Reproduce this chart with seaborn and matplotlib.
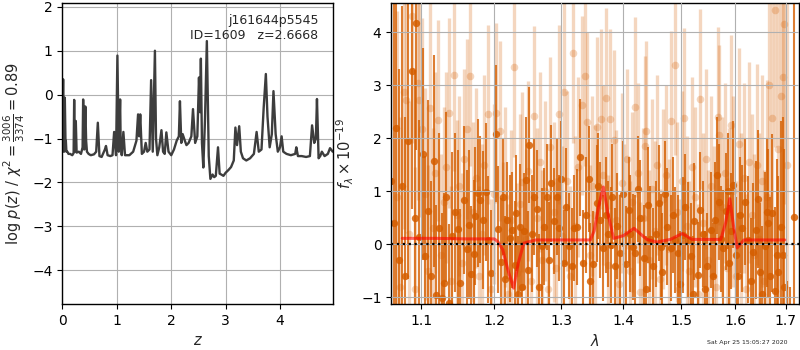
import numpy as np
import matplotlib
matplotlib.use("Agg")
import matplotlib.pyplot as plt
from matplotlib.ticker import FixedLocator, FixedFormatter, NullLocator
import seaborn as sns

sns.set_style("ticks")
plt.rcParams.update({
    "font.family": ["DejaVu Sans"],
    "font.size": 9,
    "axes.labelsize": 10.5,
    "xtick.labelsize": 10,
    "ytick.labelsize": 10,
    "axes.edgecolor": "black",
    "axes.linewidth": 1.0,
    "xtick.color": "black",
    "ytick.color": "black",
    "grid.color": "#b0b0b0",
    "grid.linewidth": 0.8,
    "xtick.direction": "out",
    "ytick.direction": "out",
})

# ---- redshift probability: log p(z) ----
z_grid = [0.000, 0.008, 0.012, 0.018, 0.030, 0.043, 0.055, 0.062, 0.072, 0.090, 0.110,
          0.140, 0.180, 0.205, 0.215, 0.225, 0.245, 0.260, 0.300, 0.340, 0.370, 0.380,
          0.400, 0.420, 0.435, 0.450, 0.480, 0.520, 0.580, 0.620, 0.650, 0.680, 0.720,
          0.780, 0.800, 0.830, 0.880, 0.920, 0.950, 0.985, 1.010, 1.035, 1.060, 1.070,
          1.090, 1.120, 1.150, 1.180, 1.230, 1.300, 1.360, 1.390, 1.410, 1.430, 1.460,
          1.500, 1.530, 1.560, 1.600, 1.630, 1.660, 1.700, 1.720, 1.745, 1.780, 1.820,
          1.850, 1.880, 1.910, 1.950, 2.000, 2.050, 2.100, 2.140, 2.160, 2.185, 2.210,
          2.250, 2.280, 2.320, 2.370, 2.400, 2.440, 2.480, 2.510, 2.530, 2.545, 2.565,
          2.590, 2.620, 2.655, 2.690, 2.720, 2.760, 2.790, 2.820, 2.860, 2.890, 2.920,
          2.960, 3.000, 3.050, 3.100, 3.150, 3.180, 3.210, 3.250, 3.280, 3.320, 3.380,
          3.450, 3.520, 3.570, 3.610, 3.660, 3.700, 3.740, 3.770, 3.810, 3.850, 3.880,
          3.920, 3.960, 4.000, 4.030, 4.060, 4.120, 4.200, 4.280, 4.300, 4.330, 4.400,
          4.480, 4.550, 4.590, 4.630, 4.660, 4.680, 4.710, 4.740, 4.770, 4.820, 4.880,
          4.920, 4.970]
logp = [-1.30, -0.20, 0.35, -1.10, -1.30, -0.07, -1.05, -1.05, -1.30, -1.30, -1.35,
        -1.35, -1.38, -1.33, -0.12, -1.30, -0.60, -1.32, -1.30, -1.35, -1.20, -0.11,
        -1.25, -0.27, -1.05, -1.30, -1.35, -1.38, -1.36, -1.30, -0.64, -1.40, -1.42,
        -1.25, -1.17, -1.38, -1.40, -1.38, -0.85, -1.38, 0.89, -1.30, -0.11, -1.10,
        -1.38, -0.85, -1.38, -1.38, -1.38, -1.30, -1.05, -0.45, -0.95, -0.45, -1.35,
        -1.30, -1.10, -1.30, -1.25, 0.33, -1.30, 1.00, -1.00, -1.38, -1.20, -0.81,
        -1.30, -1.35, -0.86, -1.30, -1.38, -1.25, -1.05, -0.95, -0.15, -1.10, -0.90,
        -1.05, -1.15, -1.10, -0.95, -0.33, -1.10, -0.95, 0.39, -0.40, 0.82, -1.10,
        -1.66, -0.60, 1.22, -1.40, -1.92, -1.82, -1.88, -1.85, -1.20, -1.80, -1.82,
        -1.85, -1.78, -1.72, -1.65, -1.50, -0.75, -1.15, -0.72, -1.30, -1.45, -1.50,
        -1.45, -1.35, -0.85, -1.30, -1.25, -0.30, 0.47, -0.50, -1.20, -0.90, 0.08,
        -0.90, -1.30, -1.20, -0.95, -1.30, -1.35, -1.38, -1.35, -1.20, -1.40, -1.40,
        -1.42, -1.40, -0.70, -1.10, -1.00, -0.10, -1.45, -1.40, -1.30, -1.40, -1.35,
        -1.22, -1.30]

# ---- 1D spectrum: binned (dark) and unbinned (light) points ----
wave_bin = [1.061, 1.064, 1.067, 1.071, 1.075, 1.079, 1.083, 1.087, 1.091, 1.093,
            1.097, 1.102, 1.104, 1.108, 1.113, 1.116, 1.119, 1.123, 1.127, 1.130,
            1.133, 1.137, 1.141, 1.145, 1.149, 1.152, 1.158, 1.161, 1.164, 1.167,
            1.171, 1.173, 1.177, 1.180, 1.184, 1.188, 1.191, 1.195, 1.202, 1.205,
            1.210, 1.213, 1.216, 1.219, 1.222, 1.226, 1.230, 1.231, 1.234, 1.237,
            1.240, 1.243, 1.246, 1.249, 1.251, 1.255, 1.258, 1.263, 1.266, 1.270,
            1.274, 1.278, 1.281, 1.284, 1.288, 1.293, 1.296, 1.300, 1.304, 1.308,
            1.312, 1.316, 1.320, 1.325, 1.330, 1.334, 1.339, 1.343, 1.346, 1.350,
            1.356, 1.359, 1.362, 1.367, 1.371, 1.374, 1.379, 1.382, 1.386, 1.390,
            1.395, 1.400, 1.405, 1.409, 1.412, 1.416, 1.420, 1.425, 1.429, 1.435,
            1.438, 1.442, 1.446, 1.450, 1.456, 1.461, 1.464, 1.467, 1.471, 1.475,
            1.482, 1.486, 1.489, 1.495, 1.499, 1.504, 1.508, 1.512, 1.518, 1.521,
            1.524, 1.530, 1.534, 1.539, 1.543, 1.548, 1.554, 1.558, 1.562, 1.566,
            1.570, 1.574, 1.577, 1.583, 1.586, 1.589, 1.593, 1.597, 1.601, 1.605,
            1.609, 1.613, 1.619, 1.625, 1.630, 1.635, 1.641, 1.645, 1.648, 1.653,
            1.658, 1.662, 1.665, 1.669, 1.673, 1.678, 1.682, 1.685, 1.690, 1.694,
            1.697, 1.703, 1.708, 1.716]
flux_bin = [1.20, 0.40, 2.20, -0.30, 1.10, -0.60, 1.95, 3.27, 0.49, 4.17,
            0.14, 1.70, -0.23, 0.62, -0.61, 1.57, -0.96, 0.30, -1.02, -0.73,
            0.89, -1.11, 0.15, 0.60, 0.28, -0.73, 0.84, -0.10, 0.37, -0.57,
            -0.19, 0.53, 0.97, 0.84, 0.46, 0.98, 0.08, -0.55, 2.09, 0.28,
            -0.33, 0.90, -0.66, 0.45, 0.11, 0.27, -0.39, 0.59, -0.95, 0.32,
            -0.81, 0.24, 1.21, -0.48, 1.87, 0.20, 0.89, 0.67, -0.81, -0.04,
            0.33, 0.89, -0.30, 1.15, 0.43, 0.89, 0.30, 1.23, -0.36, 0.71,
            -0.03, -0.42, 0.30, 0.32, 1.64, -0.36, 0.55, 1.23, -0.70, -0.37,
            0.77, 1.10, 0.46, -0.08, 0.55, 0.20, -0.02, 0.90, -0.42, 0.35,
            -0.17, 0.95, -0.37, 0.64, 0.20, -0.06, -0.17, 1.05, 0.49, -0.26,
            -0.85, 0.74, 0.10, -0.42, 0.20, 0.78, -0.05, -0.52, 0.95, 0.33,
            -0.08, 0.55, 0.08, -0.17, -0.75, 0.17, 0.70, 0.08, -0.23, -0.95,
            0.43, -0.58, 0.65, 0.20, -0.85, -0.42, 0.27, -0.60, 0.46, 1.30,
            0.80, 0.10, -0.08, 0.62, 1.00, -0.36, 0.25, 1.12, -0.20, -0.61,
            0.55, 0.30, 0.80, 0.08, -0.70, -0.14, 0.27, 0.85, -0.52, -0.95,
            -0.04, 0.60, 0.40, -0.60, 0.59, -0.89, -0.20, -0.52, 0.33, -0.20,
            -0.80, -1.60, -1.80, 0.51]
err_bin = [8.0, 8.0, 8.0, 3.6, 3.4, 3.0, 2.6, 2.6, 2.8, 2.4,
           2.2, 2.0, 1.9, 2.1, 1.8, 2.0, 1.7, 1.8, 1.6, 1.7,
           1.6, 1.5, 1.6, 1.5, 1.5, 1.4, 1.4, 1.5, 1.4, 1.3,
           1.4, 1.3, 1.4, 1.2, 1.3, 1.3, 1.2, 1.2, 1.3, 1.2,
           1.2, 1.1, 1.2, 1.1, 1.2, 1.1, 1.2, 1.1, 1.1, 1.2,
           1.1, 1.1, 1.2, 1.1, 1.1, 1.1, 1.1, 1.1, 1.0, 1.1,
           1.1, 1.0, 1.1, 1.1, 1.0, 1.1, 1.0, 1.1, 1.0, 1.1,
           1.0, 1.1, 1.0, 1.1, 1.1, 1.0, 1.1, 1.0, 1.1, 1.0,
           1.1, 1.0, 1.1, 1.0, 1.1, 1.0, 1.1, 1.0, 1.1, 1.0,
           1.1, 1.0, 1.1, 1.0, 1.1, 1.0, 1.1, 1.0, 1.1, 1.0,
           1.0, 1.1, 1.0, 1.1, 1.0, 1.1, 1.0, 1.1, 1.0, 1.1,
           1.0, 1.1, 1.0, 1.1, 1.0, 1.1, 1.0, 1.1, 1.0, 1.1,
           1.1, 1.0, 1.1, 1.0, 1.1, 1.0, 1.1, 1.0, 1.1, 1.1,
           1.1, 1.0, 1.1, 1.1, 1.1, 1.1, 1.1, 1.2, 1.1, 1.2,
           1.1, 1.2, 1.2, 1.2, 1.2, 1.3, 1.3, 1.3, 1.3, 1.3,
           1.4, 1.4, 1.4, 1.5, 1.5, 1.6, 1.8, 1.8, 2.0, 2.6,
           2.6, 0.9, 1.0, 8.0]

wave_raw = [1.068, 1.072, 1.077, 1.080, 1.084, 1.087, 1.091, 1.095, 1.097, 1.101,
            1.105, 1.108, 1.111, 1.115, 1.118, 1.122, 1.126, 1.130, 1.133, 1.137,
            1.140, 1.143, 1.147, 1.151, 1.155, 1.158, 1.162, 1.166, 1.170, 1.174,
            1.178, 1.182, 1.186, 1.191, 1.195, 1.199, 1.203, 1.208, 1.212, 1.216,
            1.220, 1.224, 1.229, 1.233, 1.237, 1.241, 1.246, 1.250, 1.254, 1.259,
            1.263, 1.267, 1.271, 1.275, 1.279, 1.283, 1.288, 1.292, 1.297, 1.301,
            1.305, 1.309, 1.313, 1.318, 1.322, 1.327, 1.333, 1.337, 1.340, 1.345,
            1.349, 1.353, 1.357, 1.363, 1.367, 1.371, 1.375, 1.378, 1.384, 1.388,
            1.393, 1.397, 1.402, 1.406, 1.411, 1.415, 1.420, 1.424, 1.428, 1.433,
            1.437, 1.439, 1.444, 1.449, 1.454, 1.458, 1.463, 1.468, 1.473, 1.478,
            1.482, 1.489, 1.493, 1.497, 1.501, 1.505, 1.510, 1.515, 1.520, 1.525,
            1.530, 1.535, 1.540, 1.545, 1.550, 1.555, 1.560, 1.564, 1.567, 1.570,
            1.575, 1.580, 1.585, 1.588, 1.592, 1.597, 1.602, 1.607, 1.612, 1.617,
            1.622, 1.627, 1.632, 1.637, 1.642, 1.647, 1.652, 1.657, 1.662, 1.667,
            1.673, 1.679, 1.685, 1.691, 1.695, 1.697, 1.702]
flux_raw = [0.90, -0.80, 2.88, 2.72, 0.20, 4.32, -0.85, 3.04, 2.72, 2.18,
            0.95, -0.50, 2.57, 0.30, 1.35, 2.34, -0.20, 0.80, 1.45, 2.48,
            -0.70, 3.19, 0.55, 1.10, -0.35, 1.60, 2.18, 3.17, 0.60, 1.25,
            -0.60, 0.20, 1.50, 2.45, -0.85, 0.95, 2.47, 2.14, -0.15, 0.90,
            -0.95, 0.45, 3.34, -0.55, 0.75, 1.18, 0.10, 1.38, -0.70, 2.42,
            0.50, 1.55, -0.30, 1.00, -0.85, 1.84, 0.60, -0.45, 2.45, 0.15,
            2.87, 1.20, -0.60, 3.61, 0.35, 1.45, 2.62, 3.17, 2.30, -0.20,
            1.10, 0.55, 2.22, 2.37, 1.30, 2.77, -0.40, 2.37, 1.97, 0.45,
            -0.75, 1.15, 0.20, 1.60, -0.50, 0.80, 2.60, 1.35, -0.90, 0.50,
            1.86, 2.14, -0.30, 1.05, 0.25, 1.50, -0.65, 0.85, 1.30, -0.10,
            2.33, 3.38, 0.60, -0.85, 1.20, 2.38, 0.35, -0.50, 1.45, 0.90,
            -0.95, 2.74, 0.40, 1.60, -0.30, 1.10, 0.15, -0.80, 2.40, 2.06,
            0.70, 1.35, -0.45, 0.50, 2.25, 1.00, -0.60, 1.90, 0.30, 1.25,
            -0.85, 1.55, 0.55, -0.20, 1.50, 0.10, 1.20, -0.70, 0.90, 3.01,
            2.38, 4.43, 1.80, 2.80, 3.16, 4.16, 1.50]
err_raw = [3.5, 3.2, 2.6, 2.5, 2.5, 2.4, 2.3, 2.2, 2.2, 2.1,
           2.0, 2.0, 2.0, 1.9, 1.9, 1.9, 1.9, 1.8, 1.8, 1.8,
           1.8, 1.8, 1.8, 1.7, 1.7, 1.7, 1.7, 1.7, 1.7, 1.7,
           1.7, 1.7, 1.7, 1.7, 1.7, 1.7, 1.7, 1.7, 1.7, 1.7,
           1.7, 1.7, 1.7, 1.7, 1.7, 1.7, 1.7, 1.7, 1.7, 1.7,
           1.7, 1.7, 1.7, 1.7, 1.7, 1.7, 1.7, 1.7, 1.7, 1.7,
           1.7, 1.7, 1.7, 1.7, 1.7, 1.7, 1.7, 1.7, 1.7, 1.7,
           1.7, 1.7, 1.7, 1.7, 1.7, 1.7, 1.7, 1.7, 1.7, 1.7,
           1.7, 1.7, 1.7, 1.7, 1.7, 1.7, 1.7, 1.7, 1.7, 1.7,
           1.7, 1.7, 1.7, 1.7, 1.7, 1.7, 1.7, 1.7, 1.7, 1.7,
           1.7, 1.7, 1.7, 1.7, 1.7, 1.7, 1.7, 1.7, 1.7, 1.7,
           1.7, 1.7, 1.7, 1.7, 1.7, 1.7, 1.7, 1.7, 1.7, 1.7,
           1.7, 1.7, 1.7, 1.7, 1.7, 1.8, 1.8, 1.8, 1.8, 1.8,
           1.8, 1.9, 1.9, 1.9, 1.9, 2.0, 2.0, 2.1, 2.2, 2.3,
           2.4, 2.6, 2.8, 3.0, 3.2, 3.4, 3.6]

# ---- best-fit model ----
wave_model = [1.075, 1.120, 1.160, 1.200, 1.205, 1.212, 1.220, 1.228, 1.235, 1.243,
              1.261, 1.300, 1.346, 1.352, 1.360, 1.367, 1.375, 1.384, 1.400, 1.418,
              1.440, 1.457, 1.481, 1.502, 1.520, 1.573, 1.582, 1.590, 1.597, 1.604,
              1.617, 1.660, 1.698]
flux_model = [0.11, 0.11, 0.10, 0.10, 0.05, -0.10, -0.50, -0.83, -0.35, 0.02,
              0.08, 0.08, 0.08, 0.25, 0.75, 1.08, 0.55, 0.11, 0.16, 0.30,
              0.09, 0.04, 0.09, 0.20, 0.09, 0.09, 0.40, 0.86, 0.35, -0.07,
              0.08, 0.08, 0.08]

target_name = "j161644p5545"
target_id = 1609
z_best = 2.6668
chi2_num, chi2_den = 3006, 3374
timestamp = "Sat Apr 25 15:05:27 2020"
wave_ticks = [1.1, 1.2, 1.3, 1.4, 1.5, 1.6, 1.7]

grism_color = (0.8352941176470589, 0.3686274509803922, 0.0)

fig = plt.figure(figsize=(8, 3.5), dpi=100)
ax1 = fig.add_axes([0.0781, 0.1314, 0.3385, 0.8591])
ax2 = fig.add_axes([0.4891, 0.1314, 0.5096, 0.8591])

# left: log p(z)
sns.lineplot(x=z_grid, y=logp, ax=ax1, color="#3d3d3d", lw=1.7,
             sort=False, estimator=None)
ax1.set_xlim(0, 4.98)
ax1.set_ylim(-4.77, 2.08)
ax1.set_xticks([0, 1, 2, 3, 4])
ax1.set_yticks([-4, -3, -2, -1, 0, 1, 2])
ax1.grid(True)
ax1.set_xlabel(r"$z$")
ax1.set_ylabel(r"log $p(z)$ / $\chi^2=\frac{%d}{%d}=%.2f$"
               % (chi2_num, chi2_den, chi2_num / chi2_den))
ax1.text(0.945, 0.965, "%s\nID=%d   z=%.4f" % (target_name, target_id, z_best),
         transform=ax1.transAxes, ha="right", va="top", fontsize=9)

# right: spectrum
wr, fr, er = np.array(wave_raw), np.array(flux_raw), np.array(err_raw)
wb, fb, eb = np.array(wave_bin), np.array(flux_bin), np.array(err_bin)

ax2.vlines(wr, fr - er, fr + er, color=grism_color, alpha=0.25, lw=2.4, zorder=1)
sns.scatterplot(x=wr, y=fr, ax=ax2, color=grism_color, alpha=0.25, s=30,
                linewidth=0, zorder=1)
ax2.vlines(wb, fb - eb, fb + eb, color=grism_color, alpha=0.8, lw=1.5, zorder=2)
sns.scatterplot(x=wb, y=fb, ax=ax2, color=grism_color, alpha=0.85, s=28,
                linewidth=0, zorder=2)
sns.lineplot(x=wave_model, y=flux_model, ax=ax2, color="red", alpha=0.6, lw=2.2,
             sort=False, estimator=None, zorder=4)
ax2.axhline(0, color="k", ls=":", lw=1.6, zorder=5)

ax2.set_xscale("log")
ax2.set_xlim(1.061, 1.727)
ax2.set_ylim(-1.13, 4.55)
ax2.xaxis.set_major_locator(FixedLocator(wave_ticks))
ax2.xaxis.set_major_formatter(FixedFormatter(["%.1f" % w for w in wave_ticks]))
ax2.xaxis.set_minor_locator(NullLocator())
ax2.set_yticks([-1, 0, 1, 2, 3, 4])
ax2.set_axisbelow(False)
ax2.grid(True, zorder=3)
ax2.set_xlabel(r"$\lambda$")
ax2.set_ylabel(r"$f_\lambda\times10^{-19}$")

fig.text(0.984, 0.015, timestamp, ha="right", va="bottom", fontsize=4.5)

fig.savefig("out.png", dpi=100)
